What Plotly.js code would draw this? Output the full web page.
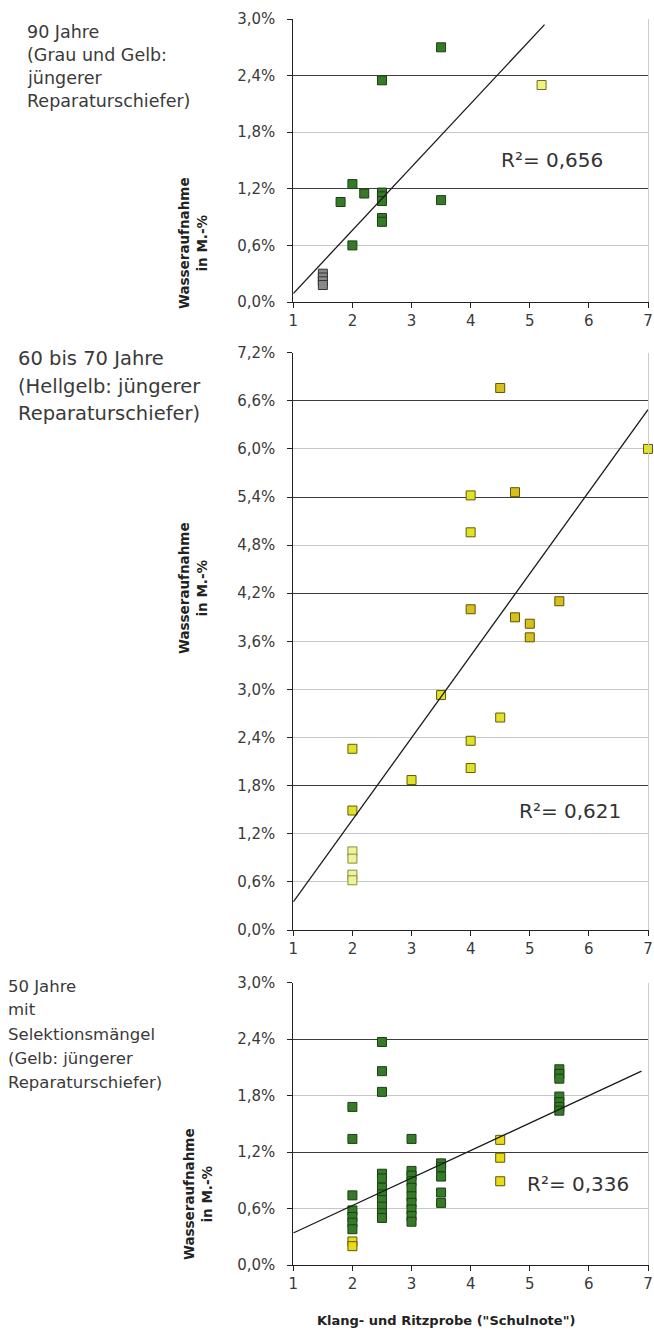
<!DOCTYPE html>
<html><head><meta charset="utf-8">
<script src="https://cdn.plot.ly/plotly-3.0.1.min.js"></script>
<style>html,body{margin:0;padding:0;background:#fff}</style>
</head><body><div id="chart" style="width:654px;height:1332px"></div>
<script>
// ---------- DATA ----------
const xTicks = [1, 2, 3, 4, 5, 6, 7];
const yTicksSmall = [0, 0.6, 1.2, 1.8, 2.4, 3.0];
const yTicksLarge = [0, 0.6, 1.2, 1.8, 2.4, 3.0, 3.6, 4.2, 4.8, 5.4, 6.0, 6.6, 7.2];
const darkGrid1 = [1.2, 2.4];
const darkGrid2 = [1.8, 4.2, 5.4, 6.6];
const darkGrid3 = [1.2, 2.4];

// Panel 1: 90 Jahre
const p1GreenX = [3.5, 2.5, 2, 2.2, 1.8, 2.5, 2.5, 2.5, 2.5, 2.5, 3.5, 2];
const p1GreenY = [2.70, 2.35, 1.25, 1.15, 1.06, 1.16, 1.12, 1.07, 0.89, 0.85, 1.08, 0.60];
const p1GrayX = [1.5, 1.5, 1.5, 1.5];
const p1GrayY = [0.30, 0.26, 0.22, 0.18];
const p1YellowX = [5.2];
const p1YellowY = [2.30];
const trend1X = [1, 5.25];
const trend1Y = [0.09, 2.94];
const r2Text1 = "R²= 0,656";

// Panel 2: 60 bis 70 Jahre
const p2GoldX = [4.5, 4.75, 4, 5.5, 4.75, 5, 5];
const p2GoldY = [6.76, 5.46, 4.00, 4.10, 3.90, 3.82, 3.65];
const p2YellowX = [7, 4, 4, 3.5, 4.5, 4, 2, 4, 3, 2];
const p2YellowY = [6.00, 5.42, 4.96, 2.93, 2.65, 2.36, 2.26, 2.02, 1.87, 1.49];
const p2PaleX = [2, 2, 2, 2];
const p2PaleY = [0.98, 0.89, 0.69, 0.62];
const trend2X = [1, 7];
const trend2Y = [0.35, 6.49];
const r2Text2 = "R²= 0,621";

// Panel 3: 50 Jahre
const p3GreenX = [2, 2, 2, 2, 2, 2, 2,
  2.5, 2.5, 2.5, 2.5, 2.5, 2.5, 2.5, 2.5, 2.5, 2.5, 2.5,
  3, 3, 3, 3, 3, 3, 3, 3, 3, 3,
  3.5, 3.5, 3.5, 3.5, 3.5,
  5.5, 5.5, 5.5, 5.5, 5.5, 5.5, 5.5];
const p3GreenY = [1.68, 1.34, 0.74, 0.58, 0.51, 0.45, 0.38,
  2.37, 2.06, 1.84, 0.97, 0.92, 0.82, 0.75, 0.69, 0.62, 0.55, 0.50,
  1.34, 1.00, 0.95, 0.89, 0.82, 0.73, 0.66, 0.59, 0.52, 0.46,
  1.08, 1.04, 0.94, 0.77, 0.66,
  2.08, 2.03, 1.98, 1.79, 1.73, 1.68, 1.64];
const p3YellowX = [2, 2, 4.5, 4.5, 4.5];
const p3YellowY = [0.25, 0.20, 1.33, 1.14, 0.89];
const trend3X = [1, 6.89];
const trend3Y = [0.34, 2.06];
const r2Text3 = "R²= 0,336";

// Texts
const label1 = ["90 Jahre", "(Grau und Gelb:", "jüngerer", "Reparaturschiefer)"];
const label2 = ["60 bis 70 Jahre", "(Hellgelb: jüngerer", "Reparaturschiefer)"];
const label3 = ["50 Jahre", "mit", "Selektionsmängel", "(Gelb: jüngerer", "Reparaturschiefer)"];
const yTitle = "Wasseraufnahme<br>in M.-%";
const xTitle = 'Klang- und Ritzprobe ("Schulnote")';

// ---------- HELPERS ----------
const W = 654, H = 1332;
const FONT = "DejaVu Sans, Liberation Sans, sans-serif";
const px = v => v / W;
const py = v => 1 - v / H;
const fmt = v => v.toFixed(1).replace('.', ',') + '%';

function pts(x, y, xa, ya, fill, border) {
  return {
    type: 'scatter', mode: 'markers', x: x, y: y, xaxis: xa, yaxis: ya,
    cliponaxis: false, hoverinfo: 'x+y',
    marker: { symbol: 'square', size: 9, color: fill, line: { color: border, width: 1 } }
  };
}
function trend(x, y, xa, ya) {
  return { type: 'scatter', mode: 'lines', x: x, y: y, xaxis: xa, yaxis: ya,
    line: { color: '#1a1a1a', width: 1.3 }, hoverinfo: 'skip' };
}

const GREEN = '#347a27', GREEN_B = '#1c3f14';
const traces = [
  pts(p1GreenX, p1GreenY, 'x', 'y', GREEN, GREEN_B),
  pts(p1GrayX, p1GrayY, 'x', 'y', '#8a8a8a', '#333333'),
  pts(p1YellowX, p1YellowY, 'x', 'y', '#eef27e', '#6d6d2a'),
  trend(trend1X, trend1Y, 'x', 'y4'),
  pts(p2GoldX, p2GoldY, 'x2', 'y2', '#d8c01c', '#5e5206'),
  pts(p2YellowX, p2YellowY, 'x2', 'y2', '#e2e126', '#5d5d0c'),
  pts(p2PaleX, p2PaleY, 'x2', 'y2', '#eef49a', '#8a8a40'),
  trend(trend2X, trend2Y, 'x2', 'y5'),
  pts(p3GreenX, p3GreenY, 'x3', 'y3', GREEN, GREEN_B),
  pts(p3YellowX, p3YellowY, 'x3', 'y3', '#e9dc16', '#5e5606'),
  trend(trend3X, trend3Y, 'x3', 'y6')
];

const xDom = [px(293.3), px(648)];
const dom1 = [py(302), py(19)];
const dom2 = [py(930), py(352.7)];
const dom3 = [py(1265), py(982.7)];

function xAxis(anchor) {
  return {
    domain: xDom, anchor: anchor, range: [1, 7], tickmode: 'array', tickvals: xTicks,
    ticktext: xTicks.map(String), ticks: 'outside', ticklen: 5, tickcolor: '#222',
    showline: true, linecolor: '#222', linewidth: 1, showgrid: false, zeroline: false,
    tickfont: { family: FONT, size: 15, color: '#3a3a3a' }, fixedrange: true
  };
}
function yAxis(anchor, dom, ticks, max) {
  return {
    domain: dom, anchor: anchor, range: [0, max], tickmode: 'array', tickvals: ticks,
    ticktext: ticks.map(fmt), ticks: 'outside', ticklen: 5, tickcolor: '#222',
    showline: true, linecolor: '#222', linewidth: 1, showgrid: true, gridcolor: '#c6c6c6',
    gridwidth: 1, zeroline: false, ticklabelstandoff: 9,
    tickfont: { family: FONT, size: 15, color: '#3a3a3a' }, fixedrange: true
  };
}
function yOver(over, anchor, dom, dark, max) {
  return {
    overlaying: over, anchor: anchor, side: 'right', domain: dom, range: [0, max],
    tickmode: 'array', tickvals: dark, showticklabels: false, ticks: '',
    showgrid: true, gridcolor: '#3c3c3c', gridwidth: 1, zeroline: false,
    showline: true, linecolor: '#cccccc', linewidth: 1, fixedrange: true
  };
}

const annotations = [];
function addLines(lines, x, ys, size) {
  lines.forEach((t, i) => annotations.push({
    text: t, xref: 'paper', yref: 'paper', x: px(x), y: py(ys[i]),
    xanchor: 'left', yanchor: 'middle', showarrow: false,
    font: { family: FONT, size: size, color: '#3a3a3a' }
  }));
}
addLines(label1, 25, [32, 55, 78, 101], 17.5);
addLines(label2, 16, [358, 386, 414], 19.5);
addLines(label3, 6, [986, 1010, 1034, 1058, 1082], 16.5);

[[193, 243], [193, 588], [198, 1194]].forEach(p => annotations.push({
  text: yTitle, xref: 'paper', yref: 'paper',
  x: px(p[0]), y: py(p[1]), xanchor: 'center', yanchor: 'middle', textangle: -90,
  showarrow: false, font: { family: FONT, size: 13.5, color: '#222', weight: 'bold' }
}));

[[r2Text1, 552, 160], [r2Text2, 570, 811], [r2Text3, 578, 1184]].forEach(r => annotations.push({
  text: r[0], xref: 'paper', yref: 'paper', x: px(r[1]), y: py(r[2]),
  xanchor: 'center', yanchor: 'middle', showarrow: false,
  font: { family: FONT, size: 20, color: '#333' }
}));

annotations.push({
  text: xTitle, xref: 'paper', yref: 'paper', x: px(446), y: py(1320),
  xanchor: 'center', yanchor: 'middle', showarrow: false,
  font: { family: FONT, size: 13, color: '#222', weight: 'bold' }
});

const layout = {
  width: W, height: H, margin: { l: 0, r: 0, t: 0, b: 0 },
  paper_bgcolor: '#fff', plot_bgcolor: 'rgba(0,0,0,0)', showlegend: false,
  xaxis: xAxis('y'), yaxis: yAxis('x', dom1, yTicksSmall, 3),
  xaxis2: xAxis('y2'), yaxis2: yAxis('x2', dom2, yTicksLarge, 7.2),
  xaxis3: xAxis('y3'), yaxis3: yAxis('x3', dom3, yTicksSmall, 3),
  yaxis4: yOver('y', 'x', dom1, darkGrid1, 3),
  yaxis5: yOver('y2', 'x2', dom2, darkGrid2, 7.2),
  yaxis6: yOver('y3', 'x3', dom3, darkGrid3, 3),
  annotations: annotations
};

Plotly.newPlot('chart', traces, layout, { displayModeBar: false, staticPlot: true });
</script>
</body></html>
